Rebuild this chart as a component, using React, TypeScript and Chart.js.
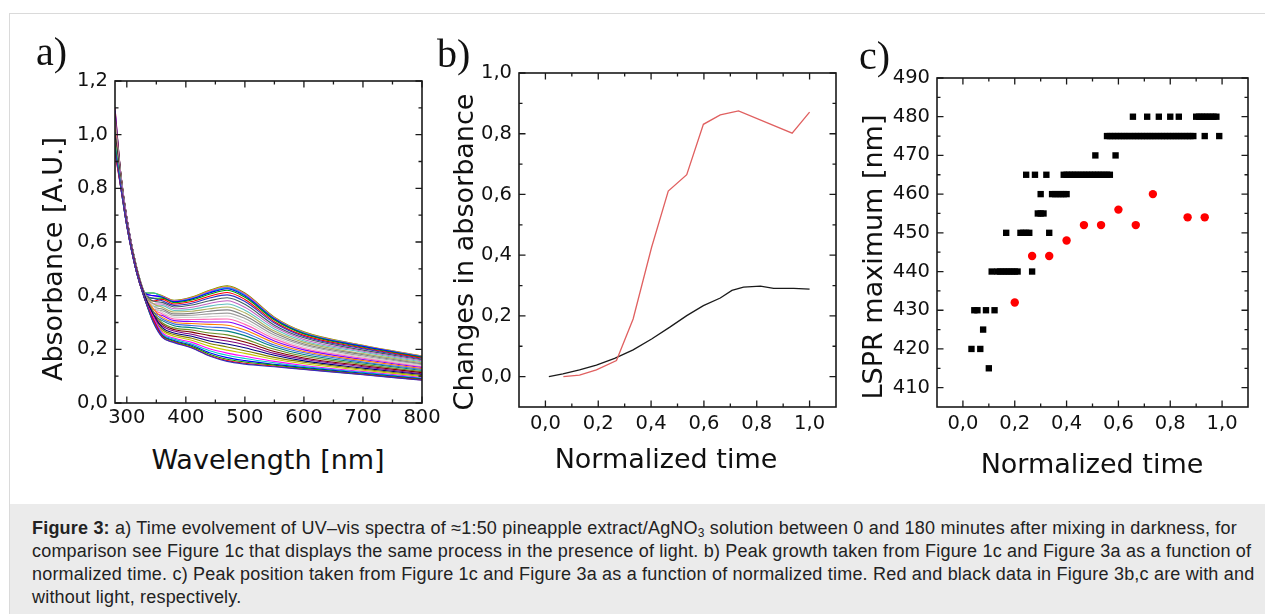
import React, { useEffect, useRef } from 'react';
import { Chart, registerables } from 'chart.js';

Chart.register(...registerables);

const FONT = "'DejaVu Sans', sans-serif";

// ---------- Panel a: UV-vis spectra ----------
const wavelengths = [280, 290, 300, 315, 330, 345, 360, 380, 410, 440, 470, 500, 550, 600, 700, 800];
const spectra: number[][] = [
  [0.95, 0.80, 0.66, 0.50, 0.39, 0.30, 0.245, 0.225, 0.205, 0.175, 0.155, 0.145, 0.135, 0.125, 0.105, 0.085],
  [0.93, 0.80, 0.66, 0.50, 0.39, 0.31, 0.247, 0.227, 0.207, 0.177, 0.158, 0.148, 0.137, 0.126, 0.106, 0.086],
  [0.96, 0.80, 0.66, 0.50, 0.39, 0.30, 0.250, 0.230, 0.211, 0.182, 0.163, 0.153, 0.141, 0.129, 0.108, 0.088],
  [0.94, 0.80, 0.66, 0.50, 0.39, 0.31, 0.253, 0.233, 0.215, 0.187, 0.169, 0.158, 0.144, 0.132, 0.111, 0.090],
  [0.97, 0.81, 0.66, 0.50, 0.39, 0.31, 0.257, 0.238, 0.220, 0.195, 0.178, 0.166, 0.150, 0.136, 0.114, 0.092],
  [0.96, 0.81, 0.66, 0.50, 0.39, 0.32, 0.262, 0.242, 0.226, 0.202, 0.186, 0.174, 0.155, 0.140, 0.117, 0.095],
  [0.98, 0.81, 0.66, 0.50, 0.39, 0.31, 0.268, 0.249, 0.234, 0.212, 0.197, 0.185, 0.163, 0.146, 0.122, 0.099],
  [0.97, 0.81, 0.67, 0.50, 0.39, 0.32, 0.274, 0.255, 0.241, 0.222, 0.209, 0.195, 0.170, 0.152, 0.126, 0.102],
  [0.99, 0.81, 0.67, 0.50, 0.40, 0.33, 0.281, 0.261, 0.249, 0.231, 0.220, 0.206, 0.178, 0.157, 0.130, 0.106],
  [0.98, 0.81, 0.67, 0.51, 0.40, 0.32, 0.287, 0.268, 0.256, 0.241, 0.231, 0.217, 0.185, 0.163, 0.135, 0.109],
  [1.00, 0.82, 0.67, 0.51, 0.40, 0.33, 0.293, 0.274, 0.264, 0.251, 0.242, 0.227, 0.192, 0.168, 0.139, 0.113],
  [0.99, 0.82, 0.67, 0.51, 0.40, 0.34, 0.299, 0.280, 0.272, 0.261, 0.254, 0.238, 0.200, 0.174, 0.144, 0.117],
  [1.01, 0.82, 0.67, 0.51, 0.40, 0.33, 0.307, 0.288, 0.281, 0.273, 0.268, 0.251, 0.209, 0.181, 0.149, 0.121],
  [1.00, 0.82, 0.67, 0.51, 0.40, 0.34, 0.313, 0.295, 0.289, 0.283, 0.279, 0.262, 0.216, 0.187, 0.153, 0.125],
  [1.02, 0.82, 0.67, 0.51, 0.40, 0.35, 0.319, 0.301, 0.296, 0.293, 0.290, 0.272, 0.224, 0.192, 0.158, 0.128],
  [1.01, 0.83, 0.68, 0.51, 0.40, 0.34, 0.326, 0.307, 0.304, 0.302, 0.302, 0.283, 0.231, 0.198, 0.162, 0.132],
  [1.03, 0.83, 0.68, 0.51, 0.40, 0.35, 0.332, 0.313, 0.311, 0.312, 0.313, 0.293, 0.239, 0.203, 0.167, 0.135],
  [1.02, 0.83, 0.68, 0.51, 0.40, 0.36, 0.338, 0.320, 0.319, 0.322, 0.324, 0.304, 0.246, 0.209, 0.171, 0.139],
  [1.04, 0.83, 0.68, 0.51, 0.40, 0.35, 0.344, 0.326, 0.327, 0.332, 0.335, 0.315, 0.253, 0.215, 0.175, 0.143],
  [1.03, 0.83, 0.68, 0.52, 0.41, 0.36, 0.350, 0.332, 0.334, 0.342, 0.347, 0.325, 0.261, 0.220, 0.180, 0.146],
  [1.05, 0.84, 0.68, 0.52, 0.41, 0.37, 0.357, 0.339, 0.342, 0.351, 0.358, 0.336, 0.268, 0.226, 0.184, 0.150],
  [1.04, 0.84, 0.68, 0.52, 0.41, 0.36, 0.363, 0.345, 0.349, 0.361, 0.369, 0.346, 0.276, 0.231, 0.189, 0.153],
  [1.06, 0.84, 0.69, 0.52, 0.41, 0.37, 0.369, 0.351, 0.357, 0.371, 0.381, 0.357, 0.283, 0.237, 0.193, 0.157],
  [1.05, 0.84, 0.69, 0.52, 0.41, 0.38, 0.375, 0.358, 0.365, 0.381, 0.392, 0.368, 0.290, 0.243, 0.197, 0.161],
  [1.07, 0.84, 0.69, 0.52, 0.41, 0.39, 0.381, 0.364, 0.372, 0.391, 0.403, 0.378, 0.298, 0.248, 0.202, 0.164],
  [1.08, 0.85, 0.69, 0.52, 0.41, 0.38, 0.386, 0.369, 0.378, 0.398, 0.412, 0.386, 0.303, 0.252, 0.205, 0.167],
  [1.07, 0.85, 0.69, 0.52, 0.41, 0.39, 0.391, 0.374, 0.384, 0.405, 0.420, 0.394, 0.309, 0.257, 0.208, 0.170],
  [1.09, 0.85, 0.69, 0.52, 0.41, 0.40, 0.394, 0.377, 0.387, 0.410, 0.426, 0.399, 0.313, 0.259, 0.211, 0.171],
  [1.08, 0.85, 0.69, 0.52, 0.41, 0.41, 0.395, 0.378, 0.389, 0.413, 0.429, 0.402, 0.314, 0.261, 0.212, 0.172],
  [1.10, 0.85, 0.69, 0.52, 0.41, 0.40, 0.397, 0.380, 0.391, 0.415, 0.431, 0.405, 0.316, 0.262, 0.213, 0.173],
  [1.09, 0.85, 0.69, 0.52, 0.41, 0.41, 0.398, 0.381, 0.393, 0.418, 0.434, 0.407, 0.318, 0.264, 0.214, 0.174],
  [1.10, 0.85, 0.69, 0.52, 0.41, 0.41, 0.400, 0.383, 0.395, 0.420, 0.437, 0.410, 0.320, 0.265, 0.215, 0.175],
];
const spectrumColors = [
  '#3030c0', '#ff0000', '#00a000', '#0000ff', '#00c8c8', '#ff00ff', '#c8c800', '#808000',
  '#000080', '#800080', '#800000', '#6b8e23', '#008080', '#4169e1', '#ff8000', '#8000ff',
  '#ff66b2', '#d0d0d0', '#a0a0a0', '#808080', '#b0b060', '#60c0c0', '#c060c0', '#406060',
];
const aXTicks = [300, 400, 500, 600, 700, 800];
const aXMinor = [350, 450, 550, 650, 750];
const aYTicks = [0, 0.2, 0.4, 0.6, 0.8, 1.0, 1.2];
const aYMinor = [0.1, 0.3, 0.5, 0.7, 0.9, 1.1];

// ---------- Panel b: peak growth ----------
const timeDark = [0.013, 0.066, 0.129, 0.193, 0.262, 0.332, 0.402, 0.471, 0.535, 0.598, 0.662, 0.706, 0.750, 0.814, 0.864, 0.940, 1.0];
const growthDark = [0.0, 0.009, 0.022, 0.038, 0.060, 0.088, 0.124, 0.163, 0.201, 0.234, 0.259, 0.284, 0.295, 0.298, 0.291, 0.291, 0.288];
const timeLight = [0.068, 0.129, 0.193, 0.269, 0.332, 0.402, 0.465, 0.535, 0.598, 0.662, 0.731, 0.934, 1.0];
const growthLight = [0.0, 0.005, 0.022, 0.053, 0.19, 0.426, 0.611, 0.665, 0.831, 0.862, 0.875, 0.802, 0.871];
const bXTicks = [0, 0.2, 0.4, 0.6, 0.8, 1.0];
const bXMinor = [0.1, 0.3, 0.5, 0.7, 0.9];
const bYTicks = [0, 0.2, 0.4, 0.6, 0.8, 1.0];
const bYMinor = [0.1, 0.3, 0.5, 0.7, 0.9];

// ---------- Panel c: LSPR maximum ----------
const peakTimeDark = [
  0.100,
  0.033, 0.067,
  0.078,
  0.044, 0.056, 0.089, 0.122,
  0.111, 0.133, 0.144, 0.156, 0.167, 0.178, 0.189, 0.200, 0.211, 0.267,
  0.167, 0.222, 0.233, 0.244, 0.256, 0.333,
  0.289, 0.300, 0.311,
  0.300, 0.344, 0.356, 0.367, 0.378, 0.389, 0.400,
  0.244, 0.278, 0.322, 0.389, 0.400, 0.411, 0.422, 0.433, 0.444, 0.456, 0.467, 0.478, 0.489, 0.500, 0.511, 0.522, 0.533, 0.544, 0.556, 0.567,
  0.511, 0.589,
  0.556, 0.567, 0.578, 0.589, 0.600, 0.611, 0.622, 0.633, 0.644, 0.656, 0.667, 0.678, 0.689, 0.700, 0.711, 0.722,
  0.733, 0.744, 0.756, 0.767, 0.778, 0.789, 0.800, 0.811, 0.822, 0.833, 0.844, 0.856, 0.867, 0.878, 0.889, 0.933, 0.989,
  0.656, 0.711, 0.756, 0.800, 0.833, 0.900, 0.911, 0.922, 0.933, 0.944, 0.956, 0.967, 0.978,
];
const peakNmDark = [
  415,
  420, 420,
  425,
  430, 430, 430, 430,
  440, 440, 440, 440, 440, 440, 440, 440, 440, 440,
  450, 450, 450, 450, 450, 450,
  455, 455, 455,
  460, 460, 460, 460, 460, 460, 460,
  465, 465, 465, 465, 465, 465, 465, 465, 465, 465, 465, 465, 465, 465, 465, 465, 465, 465, 465, 465,
  470, 470,
  475, 475, 475, 475, 475, 475, 475, 475, 475, 475, 475, 475, 475, 475, 475, 475,
  475, 475, 475, 475, 475, 475, 475, 475, 475, 475, 475, 475, 475, 475, 475, 475, 475,
  480, 480, 480, 480, 480, 480, 480, 480, 480, 480, 480, 480, 480,
];
const peakTimeLight = [0.2, 0.267, 0.333, 0.4, 0.467, 0.533, 0.6, 0.667, 0.733, 0.867, 0.933];
const peakNmLight = [432, 444, 444, 448, 452, 452, 456, 452, 460, 454, 454];
const cXTicks = [0, 0.2, 0.4, 0.6, 0.8, 1.0];
const cXMinor = [0.1, 0.3, 0.5, 0.7, 0.9];
const cYTicks = [410, 420, 430, 440, 450, 460, 470, 480, 490];
const cYMinor = [415, 425, 435, 445, 455, 465, 475, 485];

const commaFmt = (v: number) => v.toFixed(1).replace('.', ',');
const intFmt = (v: number) => String(Math.round(v));

function framePlugin(xMajor: number[], xMinor: number[], yMajor: number[], yMinor: number[]) {
  return {
    id: 'frameTicks',
    afterDatasetsDraw(chart: any) {
      const { ctx, chartArea } = chart;
      const { left, right, top, bottom } = chartArea;
      const xs = chart.scales.x;
      const ys = chart.scales.y;
      ctx.save();
      ctx.strokeStyle = '#1a1a1a';
      ctx.lineWidth = 1.3;
      ctx.beginPath();
      const xt = (vals: number[], len: number) =>
        vals.forEach((v) => {
          const p = xs.getPixelForValue(v);
          ctx.moveTo(p, bottom);
          ctx.lineTo(p, bottom - len);
          ctx.moveTo(p, top);
          ctx.lineTo(p, top + len);
        });
      const yt = (vals: number[], len: number) =>
        vals.forEach((v) => {
          const p = ys.getPixelForValue(v);
          ctx.moveTo(left, p);
          ctx.lineTo(left + len, p);
          ctx.moveTo(right, p);
          ctx.lineTo(right - len, p);
        });
      xt(xMajor, 6.5);
      xt(xMinor, 3.5);
      yt(yMajor, 6.5);
      yt(yMinor, 3.5);
      ctx.stroke();
      ctx.lineWidth = 1.6;
      ctx.strokeRect(left, top, right - left, bottom - top);
      ctx.restore();
    },
  };
}

interface AxisSpec {
  xMin: number; xMax: number; yMin: number; yMax: number;
  xTicks: number[]; yTicks: number[];
  xFmt: (v: number) => string; yFmt: (v: number) => string;
  yW: number; xH: number; topPad: number; rightPad: number; xPad: number;
}

function makeOptions(p: AxisSpec): any {
  const tickFont = { family: FONT, size: 19.5 };
  return {
    responsive: false,
    maintainAspectRatio: false,
    animation: false,
    devicePixelRatio: 1,
    events: [],
    layout: { padding: { left: 0, top: p.topPad, right: p.rightPad, bottom: 0 } },
    plugins: { legend: { display: false }, tooltip: { enabled: false }, title: { display: false } },
    scales: {
      x: {
        type: 'linear',
        min: p.xMin,
        max: p.xMax,
        grid: { display: false, drawTicks: false },
        border: { display: false },
        afterBuildTicks: (s: any) => { s.ticks = p.xTicks.map((value) => ({ value })); },
        afterFit: (s: any) => { s.height = p.xH; },
        ticks: { padding: p.xPad, color: '#111', font: tickFont, maxRotation: 0, autoSkip: false, callback: (v: any) => p.xFmt(Number(v)) },
      },
      y: {
        type: 'linear',
        min: p.yMin,
        max: p.yMax,
        grid: { display: false, drawTicks: false },
        border: { display: false },
        afterBuildTicks: (s: any) => { s.ticks = p.yTicks.map((value) => ({ value })); },
        afterFit: (s: any) => { s.width = p.yW; },
        ticks: { padding: 7, color: '#111', font: tickFont, autoSkip: false, callback: (v: any) => p.yFmt(Number(v)) },
      },
    },
  };
}

function configA(): any {
  return {
    type: 'line',
    data: {
      datasets: spectra.map((s, i) => ({
        data: s.map((y, j) => ({ x: wavelengths[j], y })),
        borderColor: spectrumColors[i % spectrumColors.length],
        borderWidth: 1.1,
        pointRadius: 0,
        fill: false,
        cubicInterpolationMode: 'monotone',
      })),
    },
    options: makeOptions({
      xMin: 280, xMax: 800, yMin: 0, yMax: 1.2, xTicks: aXTicks, yTicks: aYTicks,
      xFmt: intFmt, yFmt: commaFmt, yW: 60, xH: 40, topPad: 30, rightPad: 35, xPad: 3,
    }),
    plugins: [framePlugin(aXTicks, aXMinor, aYTicks, aYMinor)],
  };
}

function configB(): any {
  return {
    type: 'line',
    data: {
      datasets: [
        {
          data: timeLight.map((x, i) => ({ x, y: growthLight[i] })),
          borderColor: '#e06060',
          borderWidth: 1.3,
          pointRadius: 0,
          tension: 0,
        },
        {
          data: timeDark.map((x, i) => ({ x, y: growthDark[i] })),
          borderColor: '#1a1a1a',
          borderWidth: 1.3,
          pointRadius: 0,
          tension: 0,
        },
      ],
    },
    options: makeOptions({
      xMin: -0.1, xMax: 1.1, yMin: -0.1, yMax: 1.0, xTicks: bXTicks, yTicks: bYTicks,
      xFmt: commaFmt, yFmt: commaFmt, yW: 55, xH: 40, topPad: 30, rightPad: 35, xPad: 5,
    }),
    plugins: [framePlugin(bXTicks, bXMinor, bYTicks, bYMinor)],
  };
}

function configC(): any {
  return {
    type: 'scatter',
    data: {
      datasets: [
        {
          data: peakTimeLight.map((x, i) => ({ x, y: peakNmLight[i] })),
          backgroundColor: '#ff0000',
          borderWidth: 0,
          pointStyle: 'circle',
          pointRadius: 4.2,
        },
        {
          data: peakTimeDark.map((x, i) => ({ x, y: peakNmDark[i] })),
          backgroundColor: '#000000',
          borderWidth: 0,
          pointStyle: 'rect',
          pointRadius: 4.5,
        },
      ],
    },
    options: makeOptions({
      xMin: -0.1, xMax: 1.1, yMin: 405, yMax: 490, xTicks: cXTicks, yTicks: cYTicks,
      xFmt: commaFmt, yFmt: intFmt, yW: 55, xH: 40, topPad: 30, rightPad: 17, xPad: 5,
    }),
    plugins: [framePlugin(cXTicks, cXMinor, cYTicks, cYMinor)],
  };
}

function ChartCanvas(props: { left: number; top: number; width: number; height: number; make: () => any }) {
  const ref = useRef<HTMLCanvasElement>(null);
  useEffect(() => {
    const chart = new Chart(ref.current as HTMLCanvasElement, props.make());
    return () => chart.destroy();
  }, []);
  return (
    <canvas
      ref={ref}
      width={props.width}
      height={props.height}
      style={{ position: 'absolute', left: props.left, top: props.top, width: props.width, height: props.height }}
    />
  );
}

function AxisTitle(props: { x: number; y: number; text: string; vertical?: boolean }) {
  return (
    <div
      style={{
        position: 'absolute',
        left: props.x,
        top: props.y,
        transform: `translate(-50%, -50%)${props.vertical ? ' rotate(-90deg)' : ''}`,
        fontFamily: FONT,
        fontSize: 27,
        lineHeight: 1,
        whiteSpace: 'nowrap',
        color: '#111',
      }}
    >
      {props.text}
    </div>
  );
}

function PanelLabel(props: { x: number; y: number; text: string }) {
  return (
    <div
      style={{
        position: 'absolute',
        left: props.x,
        top: props.y,
        fontFamily: "'Liberation Serif', 'Times New Roman', serif",
        fontSize: 40,
        lineHeight: 1,
        color: '#111',
        whiteSpace: 'nowrap',
      }}
    >
      {props.text}
    </div>
  );
}

export default function App() {
  return (
    <div style={{ position: 'fixed', left: 0, top: 0, width: 1265, height: 614, overflow: 'hidden', background: '#fff' }}>
      <div
        style={{
          position: 'absolute', left: 9, top: 13, width: 1256, height: 601,
          borderTop: '1px solid #dadada', borderLeft: '1px solid #dadada', boxSizing: 'border-box',
        }}
      />
      <ChartCanvas left={55} top={51} width={402} height={392} make={configA} />
      <ChartCanvas left={464} top={43} width={407} height={404} make={configB} />
      <ChartCanvas left={882} top={48} width={383} height={399} make={configC} />

      <AxisTitle x={268} y={459} text="Wavelength [nm]" />
      <AxisTitle x={52} y={259} text="Absorbance [A.U.]" vertical />
      <AxisTitle x={666} y={458} text="Normalized time" />
      <AxisTitle x={463} y={252} text="Changes in absorbance" vertical />
      <AxisTitle x={1092} y={463} text="Normalized time" />
      <AxisTitle x={872} y={257} text="LSPR maximum [nm]" vertical />

      <PanelLabel x={36} y={32} text="a)" />
      <PanelLabel x={437} y={34} text="b)" />
      <PanelLabel x={859} y={36} text="c)" />

      <div
        style={{
          position: 'absolute', left: 10, top: 504, width: 1255, height: 110, background: '#ebebeb',
          boxSizing: 'border-box', paddingLeft: 22, paddingTop: 12.5,
          fontFamily: "'Liberation Sans', Arial, sans-serif", fontSize: 18, letterSpacing: '0.2px',
          lineHeight: '23.33px', color: '#222', whiteSpace: 'nowrap',
        }}
      >
        <div>
          <b>Figure 3:</b> a) Time evolvement of UV–vis spectra of ≈1:50 pineapple extract/AgNO
          <sub style={{ fontSize: 12, lineHeight: 0, verticalAlign: '-3px' }}>3</sub> solution between 0 and 180 minutes after mixing in darkness, for
        </div>
        <div>comparison see Figure 1c that displays the same process in the presence of light. b) Peak growth taken from Figure 1c and Figure 3a as a function of</div>
        <div>normalized time. c) Peak position taken from Figure 1c and Figure 3a as a function of normalized time. Red and black data in Figure 3b,c are with and</div>
        <div>without light, respectively.</div>
      </div>
    </div>
  );
}
